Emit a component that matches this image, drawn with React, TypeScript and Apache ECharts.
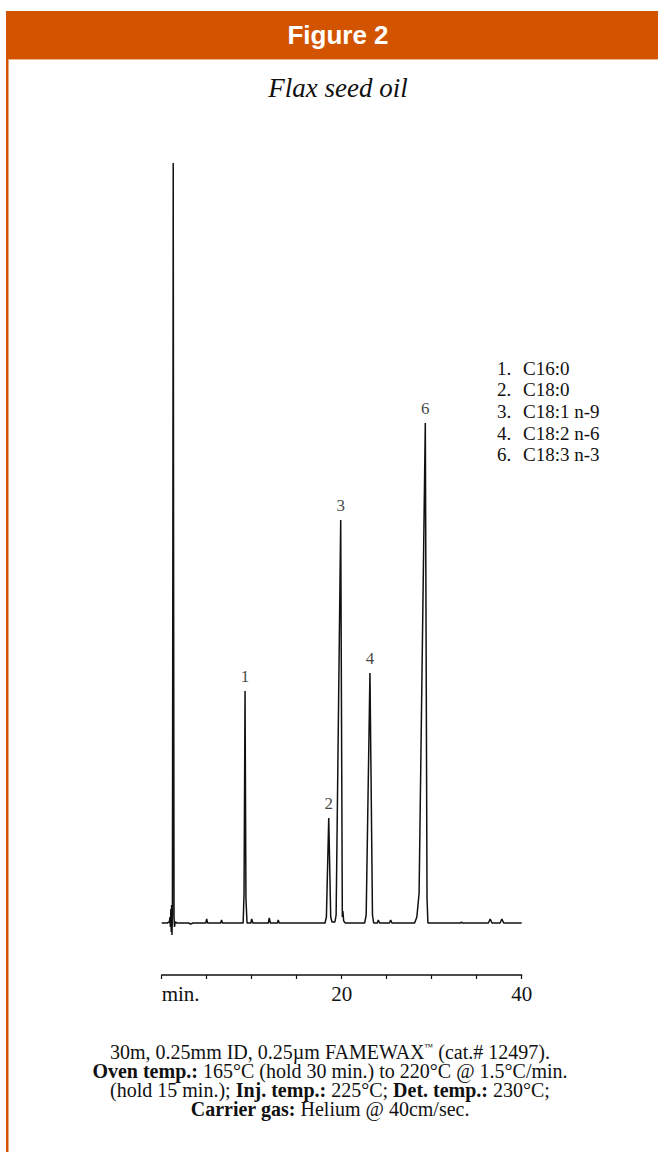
import React, { useEffect, useRef } from "react";
import * as echarts from "echarts";

// Chromatogram trace: retention time (min) and detector signal (arbitrary units)
const traceTimes = [
  0, 0.6, 0.85, 0.92, 0.97, 1.02, 1.06, 1.1, 1.14, 1.19, 1.24, 1.28, 1.32, 1.37, 1.42, 1.5, 1.7,
  3.0, 3.2, 3.5,
  4.9, 5.0, 5.1,
  6.55, 6.65, 6.75,
  9.05, 9.15, 9.26, 9.36, 9.48,
  9.9, 10.0, 10.12,
  11.85, 11.95, 12.08,
  12.85, 12.95, 13.05,
  18.15, 18.3, 18.56, 18.78, 18.92, 19.25,
  19.38, 19.89, 20.07, 20.13, 20.22, 20.4,
  22.55, 22.72, 23.14, 23.42, 23.55,
  23.95, 24.07, 24.2,
  25.3, 25.44, 25.58,
  28.1, 28.35, 28.6, 29.29, 29.48, 29.58,
  33.2, 33.3, 33.4,
  36.3, 36.5, 36.7,
  37.6, 37.8, 38.0,
  40,
];
const traceSignal = [
  0, 0, 1, 6, -4, 14, -9, 18, -12, 8, 380, 760, 380, 6, -4, 1, 0,
  0, -1, 0,
  0, 4, 0,
  0, 3, 0,
  0, 30, 232, 25, 0,
  0, 4, 0,
  0, 5, 0,
  0, 3, 0,
  0, 6, 105, 6, 1, 1,
  8, 403, 6, 12, 2, 0,
  0, 8, 250, 8, 0,
  0, 3, 0,
  0, 3, 0,
  0, 6, 30, 500, 25, 0,
  0, 1, 0,
  0, 4, 0,
  0, 4, 0,
  0,
];

// Labelled peaks
const peakNumbers = ["1", "2", "3", "4", "6"];
const peakTimes = [9.26, 18.56, 19.89, 23.14, 29.29];
const peakHeights = [232, 105, 403, 250, 500];
const peakNames = ["C16:0", "C18:0", "C18:1 n-9", "C18:2 n-6", "C18:3 n-3"];

// Axis tick labels
const tickLabels: Record<number, string> = { 0: "min.", 20: "20", 40: "40" };

const headerTitle = "Figure 2";
const subTitle = "Flax seed oil";
const footerLines = [
  "30m, 0.25mm ID, 0.25µm FAMEWAX{sup|™} (cat.# 12497).",
  "{b|Oven temp.:} 165°C (hold 30 min.) to 220°C @ 1.5°C/min.",
  "(hold 15 min.); {b|Inj. temp.:} 225°C; {b|Det. temp.:} 230°C;",
  "{b|Carrier gas:} Helium @ 40cm/sec.",
];

const ORANGE = "#D35400";
const SERIF = '"Liberation Serif", "Times New Roman", serif';
const SANS = '"Liberation Sans", Arial, sans-serif';

export default function App() {
  const ref = useRef<HTMLDivElement>(null);
  useEffect(() => {
    if (!ref.current) return;
    const chart = echarts.init(ref.current, null, { renderer: "svg" });
    const traceData = traceTimes.map((t, i) => [t, traceSignal[i]]);
    const peakData = peakTimes.map((t, i) => [t, peakHeights[i], peakNumbers[i]]);

    const graphics: any[] = [
      { type: "rect", shape: { x: 6, y: 11, width: 652, height: 48 }, style: { fill: ORANGE }, silent: true },
      { type: "rect", shape: { x: 8.5, y: 59, width: 650, height: 1 }, style: { fill: "#F2B58C" }, silent: true },
      { type: "rect", shape: { x: 6, y: 59, width: 2.5, height: 1093 }, style: { fill: ORANGE }, silent: true },
      {
        type: "text",
        style: {
          text: headerTitle, x: 338, y: 35, fill: "#ffffff",
          font: `bold 26px ${SANS}`, align: "center", verticalAlign: "middle",
          textAlign: "center", textVerticalAlign: "middle",
        },
        silent: true,
      },
      {
        type: "text",
        style: {
          text: subTitle, x: 338, y: 88, fill: "#111111",
          font: `italic 27px ${SERIF}`, align: "center", verticalAlign: "middle",
          textAlign: "center", textVerticalAlign: "middle",
        },
        silent: true,
      },
    ];

    peakNumbers.forEach((n, i) => {
      const y = 368 + i * 21.7;
      graphics.push({
        type: "text",
        style: { text: n + ".", x: 497, y, fill: "#111", font: `19px ${SERIF}`, align: "left", verticalAlign: "middle", textAlign: "left", textVerticalAlign: "middle" },
        silent: true,
      });
      graphics.push({
        type: "text",
        style: { text: peakNames[i], x: 523, y, fill: "#111", font: `19px ${SERIF}`, align: "left", verticalAlign: "middle", textAlign: "left", textVerticalAlign: "middle" },
        silent: true,
      });
    });

    const LH = 19;
    graphics.push({
      type: "text",
      style: {
        text: footerLines.join("\n"),
        x: 330,
        y: 1052 + 1.5 * LH,
        fill: "#111",
        fontSize: 20,
        fontFamily: "Liberation Serif",
        lineHeight: LH,
        align: "center",
        verticalAlign: "middle",
        textAlign: "center",
        textVerticalAlign: "middle",
        rich: {
          b: { fontSize: 20, fontFamily: "Liberation Serif", fontWeight: "bold", fill: "#111", color: "#111", lineHeight: LH },
          sup: { fontSize: 9, fontFamily: "Liberation Serif", fill: "#111", color: "#111", verticalAlign: "top", lineHeight: LH },
        },
      },
      silent: true,
    });

    chart.setOption({
      animation: false,
      backgroundColor: "#ffffff",
      grid: { left: 161.7, right: 136.3, top: 143, bottom: 209, containLabel: false },
      xAxis: {
        type: "value",
        min: 0,
        max: 40,
        interval: 5,
        offset: 32,
        axisLine: { show: true, onZero: false, lineStyle: { color: "#111", width: 1.5 } },
        axisTick: { show: true, length: 4, inside: false, lineStyle: { color: "#111", width: 1.2 } },
        splitLine: { show: false },
        axisLabel: {
          show: true,
          margin: 8,
          fontSize: 21,
          fontFamily: "Liberation Serif",
          color: "#111",
          alignMinLabel: "left",
          formatter: (v: number) => tickLabels[v] ?? "",
        },
      },
      yAxis: { type: "value", min: -20, max: 780, show: false },
      series: [
        {
          type: "line",
          data: traceData,
          showSymbol: false,
          symbol: "none",
          lineStyle: { color: "#111", width: 1.5 },
          silent: true,
        },
        {
          type: "scatter",
          data: peakData,
          symbolSize: 0,
          silent: true,
          label: {
            show: true,
            position: "top",
            distance: 6,
            formatter: (p: any) => p.data[2],
            fontSize: 17,
            fontFamily: "Liberation Serif",
            color: "#111",
          },
        },
      ],
      graphic: graphics,
    });
    return () => chart.dispose();
  }, []);
  return <div ref={ref} style={{ position: "absolute", left: 0, top: 0, width: 658, height: 1152 }} />;
}
